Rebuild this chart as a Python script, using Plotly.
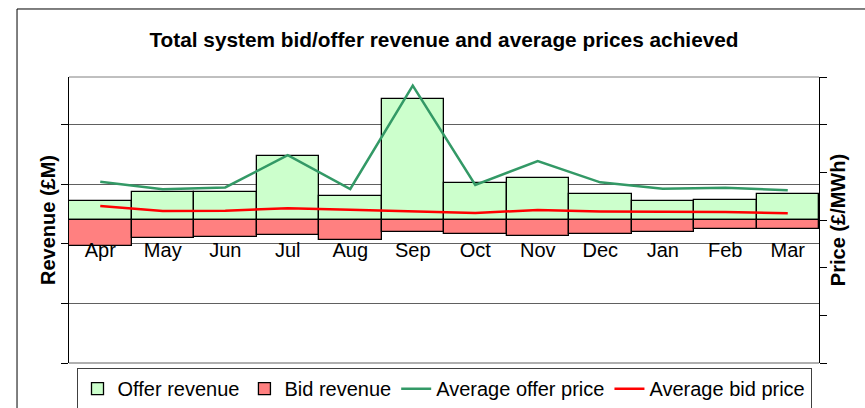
import plotly.graph_objects as go

months = ["Apr", "May", "Jun", "Jul", "Aug", "Sep", "Oct", "Nov", "Dec", "Jan", "Feb", "Mar"]
offer_revenue = [3.9, 5.9, 5.9, 13.5, 4.95, 25.4, 7.7, 8.9, 5.5, 4.05, 4.25, 5.4]
bid_revenue = [-5.4, -3.8, -3.6, -3.1, -4.1, -2.6, -3.0, -3.3, -2.9, -2.5, -1.8, -1.8]
avg_offer_price = [40.2, 32.3, 34.2, 68.0, 32.5, 141.0, 36.7, 61.9, 39.5, 32.8, 33.9, 31.1]
avg_bid_price = [14.7, 9.5, 9.8, 12.4, 10.8, 9.0, 7.3, 10.5, 9.0, 8.7, 8.4, 7.1]

revenue_gridlines = [-30, -17.5, -5, 7.5, 20]

FONT = "Liberation Sans, Arial, sans-serif"

fig = go.Figure()
fig.add_trace(go.Bar(x=months, y=offer_revenue, name="Offer revenue",
                     marker=dict(color="#CCFFCC", line=dict(color="#000000", width=1.3)),
                     width=1.0))
fig.add_trace(go.Bar(x=months, y=bid_revenue, name="Bid revenue",
                     marker=dict(color="#FF8080", line=dict(color="#000000", width=1.3)),
                     width=1.0))
fig.add_trace(go.Scatter(x=months, y=avg_offer_price, name="Average offer price", yaxis="y2",
                         mode="lines", line=dict(color="#339966", width=2.5)))
fig.add_trace(go.Scatter(x=months, y=avg_bid_price, name="Average bid price", yaxis="y2",
                         mode="lines", line=dict(color="#FF0000", width=2.5)))

fig.update_layout(
    width=865, height=408,
    margin=dict(l=69, r=46, t=77, b=45, autoexpand=False),
    paper_bgcolor="white", plot_bgcolor="white",
    font=dict(family=FONT, size=20, color="#000000"),
    showlegend=True,
    barmode="overlay",
    bargap=0,
    title=dict(text="<b>Total system bid/offer revenue and average prices achieved</b>",
               x=0.5, xref="paper", xanchor="center",
               y=1 - 40 / 408, yref="container", yanchor="middle",
               font=dict(family=FONT, size=20.8, color="#000000")),
    xaxis=dict(type="category", range=[-0.5, 11.5], automargin=False,
               anchor="free", position=0.4455,
               showline=False, showgrid=False, ticks="", zeroline=False,
               tickfont=dict(family=FONT, size=20)),
    yaxis=dict(range=[-30, 30], tickvals=revenue_gridlines, showticklabels=False,
               automargin=False,
               showgrid=True, gridcolor="#606060", gridwidth=1, zeroline=False,
               showline=True, linecolor="#000000", linewidth=1,
               ticks="outside", ticklen=7, tickcolor="#000000",
               title=dict(text="<b>Revenue (£M)</b>", standoff=0,
                          font=dict(family=FONT, size=20))),
    yaxis2=dict(overlaying="y", side="right", range=[-150, 150], dtick=50,
                automargin=False,
                showticklabels=False, showgrid=False, zeroline=False,
                showline=True, linecolor="#000000", linewidth=1,
                ticks="outside", ticklen=7, tickcolor="#000000",
                title=dict(text="<b>Price (£/MWh)</b>", standoff=4,
                           font=dict(family=FONT, size=20))),
    legend=dict(orientation="h", x=0.5, xanchor="center", y=-0.018, yanchor="top",
                bordercolor="#404040", borderwidth=1, bgcolor="white",
                font=dict(family=FONT, size=20), traceorder="normal",
                itemwidth=30, tracegroupgap=0),
    shapes=[
        dict(type="line", xref="paper", yref="paper", x0=0, x1=1, y0=1, y1=1,
             line=dict(color="#808080", width=1)),
        dict(type="line", xref="paper", yref="paper", x0=0, x1=1, y0=0, y1=0,
             line=dict(color="#606060", width=1)),
        dict(type="rect", xref="paper", yref="paper", x0=-0.0693, x1=1.1, y0=-0.3, y1=1.2378,
             line=dict(color="#000000", width=1), fillcolor="rgba(0,0,0,0)"),
    ],
)

fig.write_html("out.html", config={"displayModeBar": False},
               post_script="document.body.style.margin='0';")
